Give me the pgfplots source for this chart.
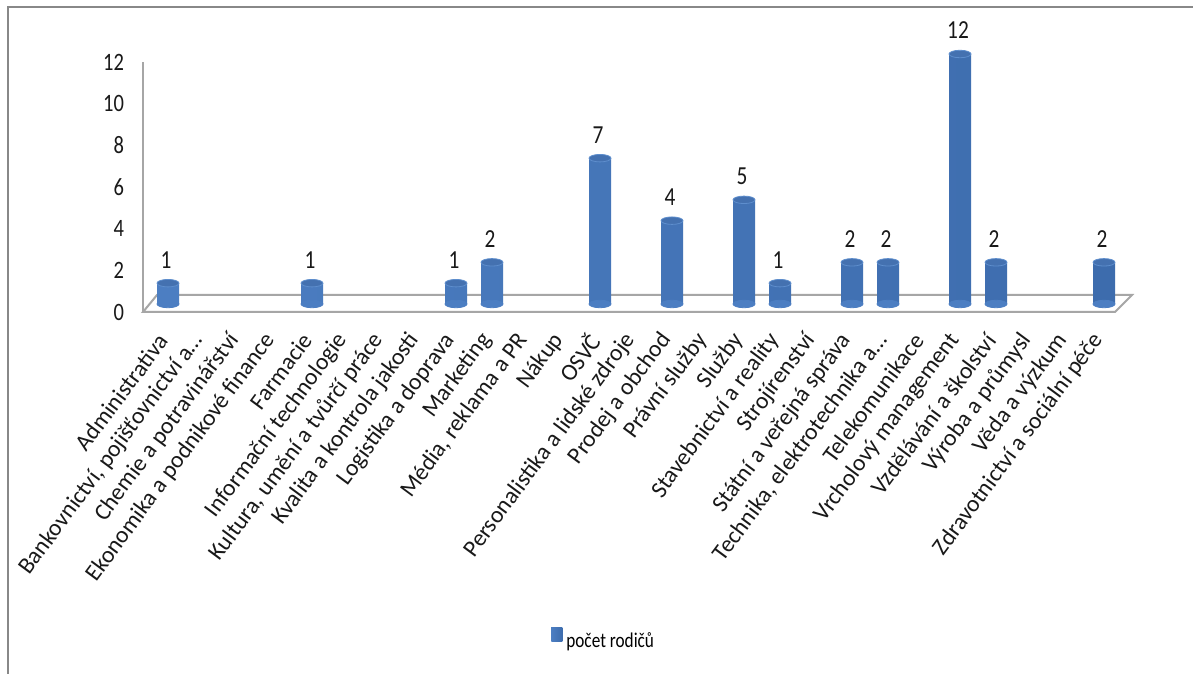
\documentclass[border=0pt]{standalone}
\usepackage{fontspec}
\setmainfont{Carlito}
\newfontfamily\narrowfont{Carlito}[FakeStretch=0.82]
\usepackage{pgfplots}
\usepackage{pgfplotstable}
\pgfplotsset{compat=1.18}

\definecolor{barleft}{HTML}{4C7EC2}
\definecolor{barmid}{HTML}{5E93D8}
\definecolor{barright}{HTML}{3D6CAD}
\definecolor{bartop}{HTML}{4471B0}
\definecolor{bartopedge}{HTML}{5E8ECD}
\definecolor{barbottom}{HTML}{4C7EC2}
\definecolor{floorgray}{HTML}{A6A6A6}
\definecolor{framegray}{HTML}{888888}
\definecolor{legblue}{HTML}{4F81BD}

% počet rodičů podle oboru (index kategorie, hodnota)
\pgfplotstableread{
idx val
0 1
1 0
2 0
3 0
4 1
5 0
6 0
7 0
8 1
9 2
10 0
11 0
12 7
13 0
14 4
15 0
16 5
17 1
18 0
19 2
20 2
21 0
22 12
23 2
24 0
25 0
26 2
}\rodice

\begin{document}
\begin{tikzpicture}
\useasboundingbox (0,0) rectangle (596.5pt,337pt);
\fill[white] (0,0) rectangle (596.5pt,337pt);
% rám grafu
\draw[framegray, line width=1pt] (4pt,0) -- (4pt,333.5pt) -- (596.5pt,333.5pt);
\begin{axis}[
  at={(71.5pt,181pt)}, anchor=south west,
  scale only axis, width=486pt, height=125pt,
  xmin=-0.5, xmax=26.5, ymin=0, ymax=12,
  clip=false,
  axis x line=bottom, axis y line=left,
  axis line style={draw=none,-},
  major tick length=0pt,
  xtick={0,...,26},
  ytick={0,2,...,12},
  /pgf/number format/assume math mode=true,
  yticklabel style={font=\narrowfont\fontsize{12.5}{14}\selectfont, xshift=-6pt, text=black!90},
  xticklabels={Administrativa,{Bankovnictví, pojišťovnictví a…},Chemie a potravinářství,Ekonomika a podnikové finance,Farmacie,Informační technologie,{Kultura, umění a tvůrčí práce},Kvalita a kontrola jakosti,Logistika a doprava,Marketing,{Média, reklama a PR},Nákup,OSVČ,Personalistika a lidské zdroje,Prodej a obchod,Právní služby,Služby,Stavebnictví a reality,Strojírenství,Státní a veřejná správa,{Technika, elektrotechnika a…},Telekomunikace,Vrcholový management,Vzdělávání a školství,Výroba a průmysl,Věda a výzkum,Zdravotnictví a sociální péče},
  xticklabel style={font=\fontsize{11.8}{14}\selectfont, anchor=east, inner sep=0pt, xshift=1pt, yshift=-12pt, rotate=53.5, text=black!90},
  legend style={at={(0.475,-1.316)}, anchor=center, draw=none, fill=none,
    font=\narrowfont\fontsize{10.5}{12}\selectfont},
  legend image code/.code={\fill[legblue] (0pt,-3.5pt) rectangle (5.5pt,3.5pt);},
]
% podlaha a svislá osa
\draw[floorgray, line width=1pt] (axis cs:-0.5,0) -- (axis cs:-0.5,12);
\draw[floorgray, line width=1pt, line join=miter]
  (axis cs:-0.5,0) -- (axis cs:26.5,0) -- ([shift={(8.5pt,8.5pt)}]axis cs:26.5,0)
  -- ([shift={(7pt,8.5pt)}]axis cs:-0.5,0) -- cycle;

% spodní zaoblení válců
\addplot[only marks, mark=*, mark size=5.5pt, draw=barbottom, fill=barbottom,
  mark options={yscale=0.34, draw=barbottom, fill=barbottom},
  shift={(3.5pt,4pt)}, forget plot,
  restrict expr to domain={\thisrow{val}}{0.5:20}]
  table[x=idx, y expr=0] {\rodice};

% těla válců
\addplot[ybar, bar width=11pt, draw=none,
  left color=barleft, middle color=barmid, right color=barright,
  shift={(3.5pt,4pt)},
  restrict y to domain=0.5:20]
  table[x=idx, y=val] {\rodice};
\addlegendentry{počet rodičů}

% horní podstavy a popisky hodnot
\addplot[only marks, mark=*, mark size=5.5pt, draw=bartopedge, fill=bartop,
  mark options={yscale=0.34, fill=bartop, draw=bartopedge, line width=0.4pt},
  shift={(3.5pt,4pt)}, forget plot,
  restrict y to domain=0.5:20,
  nodes near coords,
  every node near coord/.append style={anchor=south, yshift=4pt, xshift=-1pt,
    font=\narrowfont\fontsize{13}{15}\selectfont, text=black!90}]
  table[x=idx, y=val] {\rodice};
\end{axis}
\end{tikzpicture}
\end{document}
